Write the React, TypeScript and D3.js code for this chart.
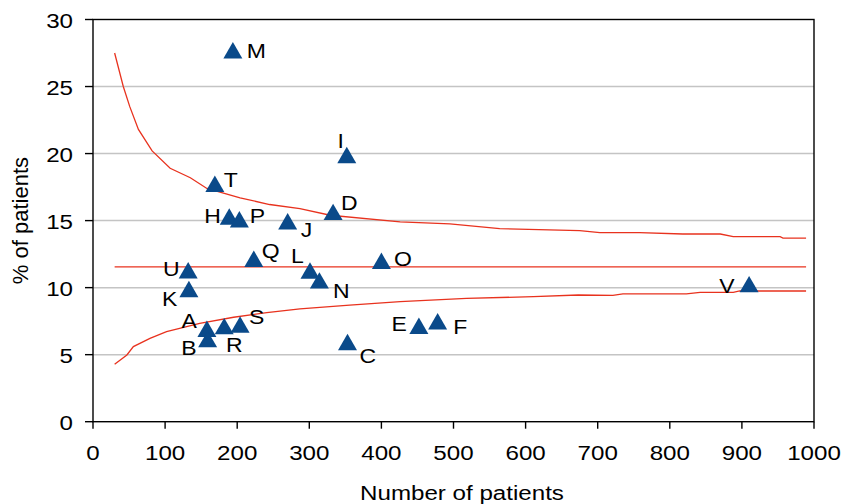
import * as d3 from "d3";

const W = 844;
const H = 504;
const M = { left: 93, right: 30, top: 19.5, bottom: 82.3 };

// hospitals (letter, number of patients, % of patients)
const NAMES = ["A", "B", "C", "D", "E", "F", "H", "I", "J", "K", "L", "M", "N", "O", "P", "Q", "R", "S", "T", "U", "V"];
const PATIENTS = [158, 159, 353, 333, 452, 478, 189, 352, 270, 133, 301, 194, 314, 400, 203, 223, 182, 204, 169, 132, 910];
const PERCENT = [6.93, 6.16, 5.95, 15.65, 7.16, 7.49, 15.3, 19.9, 14.95, 9.9, 11.28, 27.7, 10.54, 12.0, 15.1, 12.16, 7.13, 7.25, 17.75, 11.3, 10.26];

// control limits
const UPPER_N = [30, 42, 51, 63, 82, 107, 135, 158, 204, 245, 287, 329, 426, 495, 564, 675, 703, 758, 818, 870, 888, 953, 957, 989];
const UPPER_PCT = [27.5, 25.0, 23.5, 21.8, 20.2, 18.9, 18.2, 17.4, 16.7, 16.2, 15.9, 15.4, 14.9, 14.75, 14.4, 14.25, 14.1, 14.1, 14.0, 14.0, 13.8, 13.8, 13.7, 13.7];
const LOWER_N = [30, 47, 56, 79, 102, 148, 195, 241, 287, 356, 426, 518, 611, 673, 721, 735, 823, 842, 888, 897, 989];
const LOWER_PCT = [4.28, 4.98, 5.6, 6.22, 6.72, 7.34, 7.79, 8.13, 8.42, 8.7, 8.96, 9.2, 9.33, 9.45, 9.42, 9.53, 9.53, 9.65, 9.65, 9.75, 9.75];
const MEAN_N = [30, 989];
const MEAN_PCT = [11.55, 11.55];

const X_TICKS = [0, 100, 200, 300, 400, 500, 600, 700, 800, 900, 1000];
const Y_TICKS = [0, 5, 10, 15, 20, 25, 30];

// where each letter sits next to its marker: [anchor, dx, dy]
const LABEL_PLACE: Record<string, [string, number, number]> = {
  A: ["end", -10, -0.5],
  B: ["end", -11, 16],
  C: ["start", 12, 21],
  D: ["start", 8, -2],
  E: ["end", -12, 5],
  F: ["start", 15.5, 12.7],
  H: ["end", -8.5, 6.6],
  I: ["middle", -6, -7],
  J: ["start", 13, 16],
  K: ["end", -11.5, 17],
  L: ["end", -6.3, -7],
  M: ["start", 14, 7.5],
  N: ["start", 13.6, 17.5],
  O: ["start", 12.5, 5],
  P: ["start", 10.3, 4],
  Q: ["start", 8, -1],
  R: ["start", 1.8, 25.5],
  S: ["start", 9, -0.5],
  T: ["start", 9, 3.5],
  U: ["end", -8.5, 5.7],
  V: ["end", -14.5, 8.5],
};

const FONT = '"Liberation Sans", Arial, sans-serif';
const RED = "#e8321e";
const BLUE = "#0a4a8a";
const SX = 1.15; // text in the picture is a little wide

function Label({ x, y, anchor = "start", size, children }: any) {
  return (
    <text
      transform={`translate(${x},${y}) scale(${SX},1)`}
      textAnchor={anchor}
      fontSize={size}
      fill="#000"
    >
      {children}
    </text>
  );
}

export default function App() {
  const x = d3.scaleLinear().domain([0, 1000]).range([M.left, W - M.right]);
  const y = d3.scaleLinear().domain([0, 30]).range([H - M.bottom, M.top]);

  const line = d3
    .line<[number, number]>()
    .x((d) => x(d[0]))
    .y((d) => y(d[1]));

  const upper = UPPER_N.map((n, i) => [n, UPPER_PCT[i]] as [number, number]);
  const lower = LOWER_N.map((n, i) => [n, LOWER_PCT[i]] as [number, number]);
  const mean = MEAN_N.map((n, i) => [n, MEAN_PCT[i]] as [number, number]);

  const triSize = 156;
  const half = Math.sqrt(triSize / (Math.sqrt(3) * 3)) / 2;
  const tri = d3.symbol(d3.symbolTriangle, triSize)() as string;

  const x0 = x(0);
  const x1 = x(1000);
  const y0 = y(0);
  const y1 = y(30);

  return (
    <svg
      width={W}
      height={H}
      style={{ position: "absolute", left: 0, top: 0, background: "#fff" }}
      fontFamily={FONT}
    >
      {Y_TICKS.filter((t) => t > 0 && t < 30).map((t) => (
        <line key={t} x1={x0} x2={x1} y1={y(t)} y2={y(t)} stroke="#c4c4c4" strokeWidth={1.5} />
      ))}

      <rect x={x0} y={y1} width={x1 - x0} height={y0 - y1} fill="none" stroke="#000" strokeWidth={1.4} />

      {Y_TICKS.map((t) => (
        <g key={t}>
          <line x1={x0 - 8} x2={x0} y1={y(t)} y2={y(t)} stroke="#000" strokeWidth={1.4} />
          <Label x={x0 - 20} y={y(t) + 8} anchor="end" size={21}>
            {t}
          </Label>
        </g>
      ))}
      {X_TICKS.map((t) => (
        <g key={t}>
          <line x1={x(t)} x2={x(t)} y1={y0} y2={y0 + 7} stroke="#000" strokeWidth={1.4} />
          <Label x={x(t)} y={y0 + 38} anchor="middle" size={21}>
            {t}
          </Label>
        </g>
      ))}

      <path d={line(upper) as string} fill="none" stroke={RED} strokeWidth={1.3} />
      <path d={line(mean) as string} fill="none" stroke={RED} strokeWidth={1.3} />
      <path d={line(lower) as string} fill="none" stroke={RED} strokeWidth={1.3} />

      {NAMES.map((name, i) => {
        const px = x(PATIENTS[i]);
        const py = y(PERCENT[i]);
        const [anchor, dx, dy] = LABEL_PLACE[name];
        return (
          <g key={name}>
            <path d={tri} transform={`translate(${px},${py + half})`} fill={BLUE} />
            <Label x={px + dx} y={py + dy} anchor={anchor} size={20}>
              {name}
            </Label>
          </g>
        );
      })}

      <Label x={462} y={500} anchor="middle" size={21}>
        Number of patients
      </Label>
      <text
        transform={`translate(28,${(y0 + y1) / 2}) rotate(-90)`}
        textAnchor="middle"
        fontSize={22}
        fill="#000"
      >
        % of patients
      </text>
    </svg>
  );
}
